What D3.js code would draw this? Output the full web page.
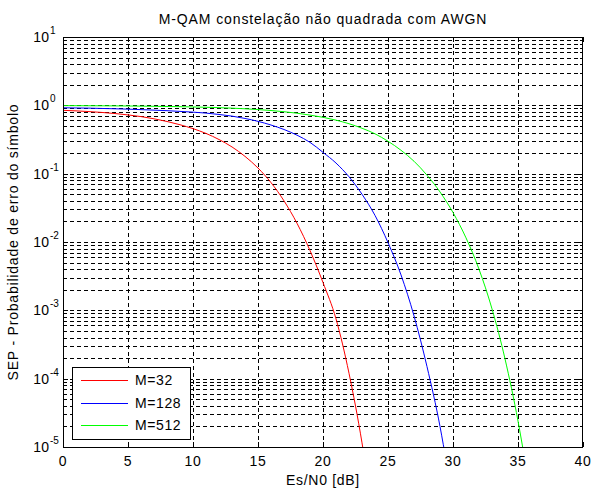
<!DOCTYPE html>
<html lang="pt">
<head>
<meta charset="UTF-8">
<title>M-QAM SEP</title>
<style>
  body { margin: 0; background: #fff; }
  text { font-family: "Liberation Sans", Arial, sans-serif; fill: #000; }
</style>
</head>
<body>
<script src="https://d3js.org/d3.v7.min.js"></script>
<script>
// values
const snr32 = [0,1,2,3,4,5,6,7,8,9,10,11,12,13,14,15,16,17,18,19,20,21,22,23,24];
const sep32 = [0.845,0.83,0.81,0.787,0.758,0.724,0.684,0.635,0.58,0.52,0.456,0.388,0.316,0.246,0.179,0.121,0.074,0.040,0.0188,0.0075,0.00255,7.5e-4,1.2e-4,1.15e-5,6e-7];

const snr128 = [0,1,2,3,4,5,6,7,8,9,10,11,12,13,14,15,16,17,18,19,20,21,22,23,24,25,26,27,28,29,30];
const sep128 = [0.92,0.915,0.91,0.90,0.89,0.88,0.865,0.85,0.835,0.815,0.795,0.77,0.735,0.695,0.643,0.583,0.515,0.443,0.366,0.287,0.205,0.143,0.09,0.05,0.0245,0.0098,0.0033,8.3e-4,1.5e-4,2e-5,1.5e-6];

const snr512 = [0,1,2,3,4,5,6,7,8,9,10,11,12,13,14,15,16,17,18,19,20,21,22,23,24,25,26,27,28,29,30,31,32,33,34,35,36];
const sep512 = [0.99,0.988,0.986,0.984,0.981,0.978,0.973,0.968,0.962,0.955,0.947,0.937,0.925,0.909,0.89,0.867,0.84,0.806,0.767,0.72,0.668,0.607,0.538,0.462,0.383,0.298,0.22,0.152,0.095,0.054,0.027,0.0115,0.004,0.00105,1.95e-4,2.4e-5,1.8e-6];

const seriesNames = ["M=32", "M=128", "M=512"];
const seriesColors = ["#ff0000", "#0000ff", "#00ff00"];

const xTicks = [0,5,10,15,20,25,30,35,40];
const yExponents = [-5,-4,-3,-2,-1,0,1];

const titleText = "M-QAM constelação não quadrada com AWGN";
const xLabel = "Es/N0 [dB]";
const yLabel = "SEP - Probabilidade de erro do símbolo";

const W = 591, H = 488;
const pL = 63, pR = 583, pT = 37, pB = 447;

const svg = d3.select("body").append("svg")
    .attr("width", W)
    .attr("height", H);

svg.append("rect").attr("width", W).attr("height", H).attr("fill", "#fff");

const x = d3.scaleLinear().domain([0, 40]).range([pL, pR]);
const y = d3.scaleLog().domain([1e-5, 10]).range([pB, pT]);

const crisp = v => Math.round(v) + 0.5;

// grid: every minor decade value, dashed
const gridVals = [];
yExponents.slice(0, -1).forEach(e => {
    for (let m = 1; m < 10; m++) gridVals.push(m * Math.pow(10, e));
});
gridVals.push(10);

const grid = svg.append("g")
    .attr("stroke", "#000")
    .attr("stroke-width", 1)
    .attr("stroke-dasharray", "4,3")
    .attr("shape-rendering", "crispEdges");

grid.selectAll("line.h").data(gridVals.filter(v => v > 1e-5 && v < 10)).enter().append("line")
    .attr("class", "h")
    .attr("x1", pL).attr("x2", pR)
    .attr("y1", d => crisp(y(d))).attr("y2", d => crisp(y(d)));

grid.selectAll("line.v").data(xTicks.slice(1, -1)).enter().append("line")
    .attr("class", "v")
    .attr("y1", pT).attr("y2", pB)
    .attr("x1", d => crisp(x(d))).attr("x2", d => crisp(x(d)));

// tick marks inside the box
const ticks = svg.append("g").attr("stroke", "#000").attr("shape-rendering", "crispEdges");
xTicks.forEach(t => {
    ticks.append("line").attr("x1", crisp(x(t))).attr("x2", crisp(x(t))).attr("y1", pB).attr("y2", pB - 5);
    ticks.append("line").attr("x1", crisp(x(t))).attr("x2", crisp(x(t))).attr("y1", pT).attr("y2", pT + 5);
});
gridVals.forEach(v => {
    const len = Number.isInteger(Math.log10(v)) ? 5 : 3;
    ticks.append("line").attr("x1", pL).attr("x2", pL + len).attr("y1", crisp(y(v))).attr("y2", crisp(y(v)));
    ticks.append("line").attr("x1", pR).attr("x2", pR - len).attr("y1", crisp(y(v))).attr("y2", crisp(y(v)));
});

// curves
svg.append("clipPath").attr("id", "plotclip")
    .append("rect").attr("x", pL).attr("y", pT).attr("width", pR - pL).attr("height", pB - pT);

const line = d3.line()
    .x(d => x(d[0]))
    .y(d => y(d[1]))
    .curve(d3.curveMonotoneX);

const series = [
    d3.zip(snr32, sep32),
    d3.zip(snr128, sep128),
    d3.zip(snr512, sep512)
];

svg.append("g").attr("clip-path", "url(#plotclip)")
    .selectAll("path").data(series).enter().append("path")
    .attr("d", line)
    .attr("fill", "none")
    .attr("stroke", (d, i) => seriesColors[i])
    .attr("stroke-width", 1);

// axes box
svg.append("rect")
    .attr("x", pL + 0.5).attr("y", pT + 0.5)
    .attr("width", pR - pL - 1).attr("height", pB - pT)
    .attr("fill", "none").attr("stroke", "#000")
    .attr("shape-rendering", "crispEdges");

// x tick labels
svg.selectAll("text.xt").data(xTicks).enter().append("text")
    .attr("class", "xt")
    .attr("x", d => x(d))
    .attr("y", 466)
    .attr("text-anchor", "middle")
    .attr("font-size", 14)
    .style("letter-spacing", "0.6px")
    .text(d => d);

// y tick labels 10^e
yExponents.forEach(e => {
    const yy = y(Math.pow(10, e));
    svg.append("text")
        .attr("x", 49.5).attr("y", yy + 5)
        .attr("text-anchor", "end")
        .attr("font-size", 14)
        .style("letter-spacing", "0.4px")
        .text("10");
    svg.append("text")
        .attr("x", 50).attr("y", yy - 3)
        .attr("font-size", 10)
        .text(e);
});

// title and labels
svg.append("text")
    .attr("x", (pL + pR) / 2).attr("y", 24)
    .attr("text-anchor", "middle")
    .attr("font-size", 14)
    .style("letter-spacing", "0.9px")
    .text(titleText);

svg.append("text")
    .attr("x", (pL + pR) / 2).attr("y", 485)
    .attr("text-anchor", "middle")
    .attr("font-size", 14)
    .style("letter-spacing", "0.7px")
    .text(xLabel);

svg.append("text")
    .attr("transform", `translate(18,${(pT + pB) / 2}) rotate(-90)`)
    .attr("text-anchor", "middle")
    .attr("font-size", 14)
    .style("letter-spacing", "0.8px")
    .text(yLabel);

// legend
const lg = svg.append("g");
lg.append("rect")
    .attr("x", 72.5).attr("y", 367.5).attr("width", 118).attr("height", 72)
    .attr("fill", "#fff").attr("stroke", "#000")
    .attr("shape-rendering", "crispEdges");
const legY = [380, 403, 425];
seriesNames.forEach((name, i) => {
    lg.append("line")
        .attr("x1", 81).attr("x2", 128)
        .attr("y1", legY[i] + 0.5).attr("y2", legY[i] + 0.5)
        .attr("stroke", seriesColors[i]);
    lg.append("text")
        .attr("x", 135).attr("y", legY[i] + 5)
        .attr("font-size", 14)
        .style("letter-spacing", "0.6px")
        .text(name);
});
</script>
</body>
</html>
